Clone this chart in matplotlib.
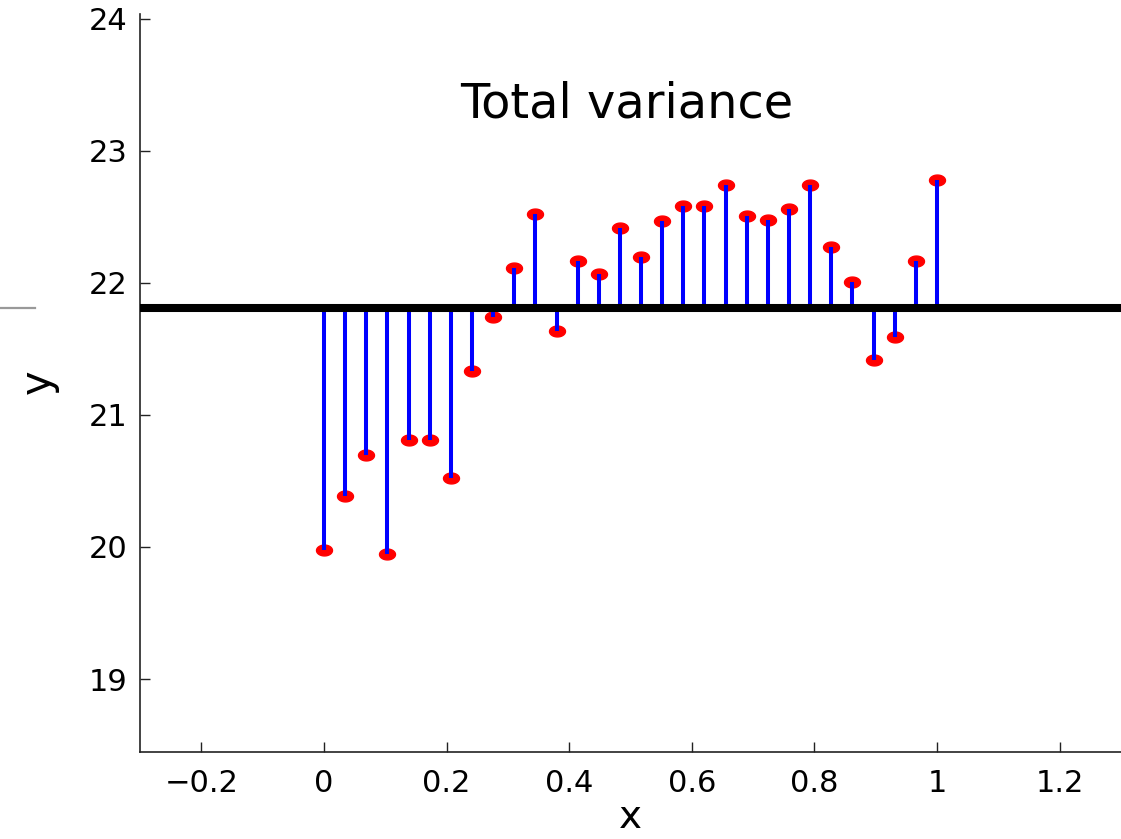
import numpy as np
import matplotlib
matplotlib.use("Agg")
import matplotlib.pyplot as plt
from matplotlib.path import Path
from matplotlib.lines import Line2D

plt.rcParams['font.family'] = ['DejaVu Sans']

# Data
x_vals = np.linspace(0, 1, 30)
y_vals = [19.98, 20.39, 20.70, 19.95, 20.81, 20.81, 20.52, 21.33, 21.74, 22.11,
          22.52, 21.64, 22.17, 22.07, 22.42, 22.20, 22.47, 22.58, 22.58, 22.74,
          22.51, 22.48, 22.56, 22.74, 22.27, 22.01, 21.42, 21.59, 22.17, 22.78]
mean_y = 21.81
x_ticks = [-0.2, 0, 0.2, 0.4, 0.6, 0.8, 1, 1.2]
x_tick_labels = ["\u22120.2", "0", "0.2", "0.4", "0.6", "0.8", "1", "1.2"]
y_ticks = [19, 20, 21, 22, 23, 24]
title_text = "Total variance"

fig = plt.figure(figsize=(11.21, 8.39), dpi=100)
ax = fig.add_axes([140/1121, 1-752/839, 1-140/1121, (752-13.7)/839])

# ellipse marker
t = np.linspace(0, 2*np.pi, 60)
verts = np.column_stack([np.cos(t), 0.68*np.sin(t)])
ell = Path(verts, closed=True)

ax.plot(x_vals, y_vals, linestyle='none', marker=ell, markersize=11.5,
        markerfacecolor='#ff0000', markeredgecolor='#ff0000', zorder=2)
ax.vlines(x_vals, mean_y, y_vals, colors='#0000ff', linewidth=2.9, zorder=3)
ax.axhline(mean_y, color='black', linewidth=5.8, zorder=4)

ax.set_xlim(-0.3, 1.3)
ax.set_ylim(18.447, 24.04)
ax.set_xticks(x_ticks)
ax.set_xticklabels(x_tick_labels)
ax.set_yticks(y_ticks)
ax.tick_params(direction='in', length=7, width=1.0, labelsize=22, color='#222222')
ax.tick_params(axis='x', pad=12)
ax.tick_params(axis='y', pad=9)
for s in ['top', 'right']:
    ax.spines[s].set_visible(False)
for s in ['left', 'bottom']:
    ax.spines[s].set_linewidth(1.2)
    ax.spines[s].set_color('#222222')

ax.text(0.4935, 23.25, title_text, ha='center', va='baseline', fontsize=34.5)
ax.set_xlabel('x', fontsize=28, va='baseline')
ax.xaxis.set_label_coords((630-140)/981, (752-828)/738.3)
ax.set_ylabel('y', fontsize=30, va='center')
ax.yaxis.set_label_coords((38-140)/981, (752-382)/738.3)

fig.add_artist(Line2D([0, 35/1121], [1-308/839, 1-308/839], color='#999999',
                      linewidth=1.6, transform=fig.transFigure))

fig.savefig('out.png', dpi=100)
